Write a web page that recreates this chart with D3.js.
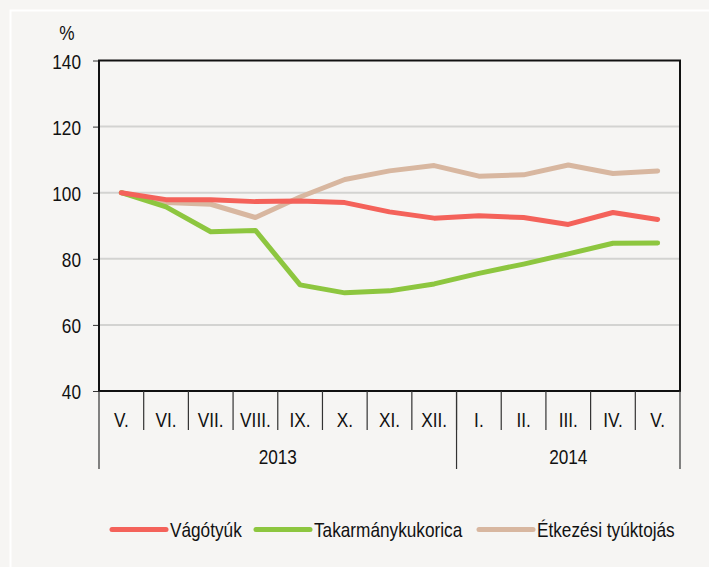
<!DOCTYPE html>
<html><head><meta charset="utf-8">
<script src="https://cdn.jsdelivr.net/npm/d3@7"></script>
<style>
html,body{margin:0;padding:0;background:#f6f5f3;}
text{font-family:"Liberation Sans",Arial,sans-serif;fill:#111;font-size:21px;}
</style></head>
<body>
<svg id="chart" width="709" height="567"></svg>
<script>
const months = ["V.","VI.","VII.","VIII.","IX.","X.","XI.","XII.","I.","II.","III.","IV.","V."];
const years = [{label:"2013", start:0, end:8},{label:"2014", start:8, end:13}];
const yTicks = [40,60,80,100,120,140];
const vagotyuk = [100,97.9,97.9,97.3,97.5,97.0,94.2,92.3,93.0,92.5,90.4,94.0,91.9];
const takarmany = [100,95.7,88.2,88.6,72.1,69.7,70.3,72.4,75.6,78.4,81.5,84.7,84.8];
const etkezesi = [100,97.0,96.5,92.5,98.7,104.0,106.6,108.2,105.0,105.4,108.4,105.8,106.6];
const seriesNames = ["Vágótyúk","Takarmánykukorica","Étkezési tyúktojás"];
const colors = ["#f4625a","#8dc63f","#d8b7a0"];
const SX = 0.82;

const svg = d3.select("#chart");
svg.append("rect").attr("x",10.5).attr("y",10.5).attr("width",720).attr("height",600)
  .attr("fill","#f6f5f3").attr("stroke","#ffffff").attr("stroke-width",2);

function txt(g, x0, y0, s, anchor){
  return g.append("text").attr("transform",`translate(${x0},${y0}) scale(${SX},1)`)
    .attr("dy","0.36em").attr("text-anchor",anchor||"middle").text(s);
}

const L=99, R=680, T=60.5, B=391;
const x = d3.scaleBand().domain(d3.range(months.length)).range([L,R]);
const y = d3.scaleLinear().domain([40,140]).range([B,T]);

// gridlines
svg.append("g").selectAll("line").data(yTicks.filter(t=>t>40&&t<140)).join("line")
  .attr("x1",L).attr("x2",R).attr("y1",d=>y(d)).attr("y2",d=>y(d))
  .attr("stroke","#d3d3d1").attr("stroke-width",2);

// y axis ticks
const yAxis = svg.append("g").attr("transform",`translate(${L},0)`)
  .call(d3.axisLeft(y).tickValues(yTicks).tickSize(6).tickFormat(""));
yAxis.select(".domain").remove();
yAxis.selectAll("line").attr("stroke","#333").attr("stroke-width",1);
const yl = svg.append("g");
yTicks.forEach(t=>txt(yl, 81, y(t)+0.5, String(t), "end"));

txt(svg, 67, 32, "%", "middle");

// lines (tan, green, red on top)
const line = d3.line().x((d,i)=>x(i)+x.bandwidth()/2).y(d=>y(d));
[[etkezesi,2],[takarmany,1],[vagotyuk,0]].forEach(([s,idx])=>{
  svg.append("path").datum(s).attr("d",line).attr("fill","none")
    .attr("stroke",colors[idx]).attr("stroke-width",5)
    .attr("stroke-linejoin","round").attr("stroke-linecap","round");
});

// frame
svg.append("rect").attr("x",L).attr("y",T).attr("width",R-L).attr("height",B-T)
  .attr("fill","none").attr("stroke","#111").attr("stroke-width",2);

// category axis
const cat = svg.append("g");
cat.selectAll("line.sep").data(d3.range(1,months.length)).join("line")
  .attr("x1",i=>x(i)).attr("x2",i=>x(i)).attr("y1",B).attr("y2",430)
  .attr("stroke","#333").attr("stroke-width",1.2);
months.forEach((m,i)=>txt(cat, x(i)+x.bandwidth()/2, 419, m, "middle"));
const yearEdges = [0,8,13];
cat.selectAll("line.yr").data(yearEdges).join("line")
  .attr("x1",i=>i<13?x(i):R).attr("x2",i=>i<13?x(i):R).attr("y1",B).attr("y2",469)
  .attr("stroke","#333").attr("stroke-width",1.2);
years.forEach(d=>{
  const a = d.start<13?x(d.start):R, b = d.end<13?x(d.end):R;
  txt(cat, (a+b)/2, 456, d.label, "middle");
});

// legend
const legendX = [112,256,479];
const lg = svg.append("g");
seriesNames.forEach((n,i)=>{
  lg.append("line").attr("x1",legendX[i]).attr("x2",legendX[i]+54).attr("y1",529.5).attr("y2",529.5)
    .attr("stroke",colors[i]).attr("stroke-width",5).attr("stroke-linecap","round");
  txt(lg, legendX[i]+58, 529.5, n, "start");
});
</script>
</body></html>
